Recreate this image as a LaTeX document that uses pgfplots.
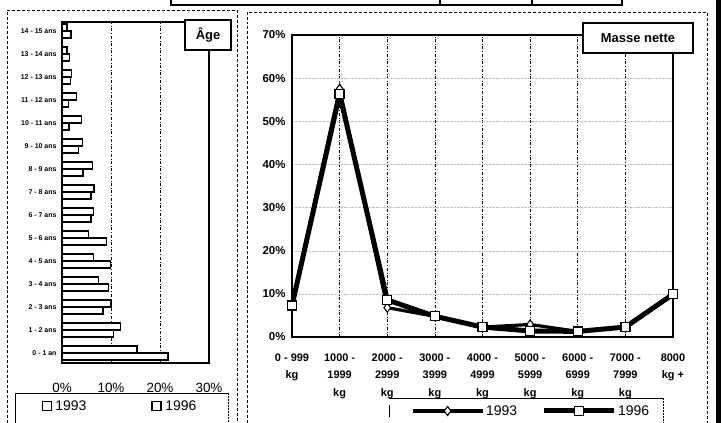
\documentclass[border=0pt]{standalone}
\usepackage{fontspec}
\setmainfont{Liberation Sans}
\usepackage{pgfplots}
\pgfplotsset{compat=1.18}

% age groups: 0 = "0 - 1 an" ... 14 = "14 - 15 ans"
\pgfplotstableread{
cat v1993 v1996
0  21.6 15.3
1  10.5 12.0
2  8.4  10.0
3  9.5  7.5
4  9.9  6.4
5  9.1  5.4
6  5.9  6.4
7  5.9  6.5
8  4.3  6.2
9  3.4  4.2
10 1.4  4.0
11 1.3  3.0
12 1.7  2.0
13 1.5  1.0
14 1.8  1.0
}\agedata

% net mass classes 0..8
\pgfplotstableread{
cat v1993 v1996
0 7.5  7.3
1 57.5 56.3
2 6.8  8.6
3 4.8  4.8
4 2.3  2.3
5 2.9  1.4
6 1.3  1.3
7 2.3  2.3
8 9.9  9.9
}\massdata

\begin{document}
\begin{tikzpicture}
\useasboundingbox (0,0) rectangle (721bp,423bp);

% frames of the scanned page
\draw[line width=2.2pt] (171bp,423bp) -- (171bp,418bp) -- (622bp,418bp) -- (622bp,423bp);
\draw[line width=2.2pt] (440bp,418bp) -- (440bp,423bp) (532bp,418bp) -- (532bp,423bp);
\draw[densely dashed, line width=0.5pt] (7bp,0bp) -- (7bp,413bp) -- (237bp,413bp) -- (237bp,0bp);
\draw[densely dashed, line width=0.5pt] (247bp,0bp) -- (247bp,411bp) -- (707bp,411bp) -- (707bp,0bp);
\fill[black] (716bp,0bp) rectangle (721bp,423bp);
% legend boxes
\draw[line width=0.5pt] (15bp,0bp) -- (15bp,30bp) -- (228bp,30bp);
\draw[densely dotted, line width=0.5pt] (228bp,30bp) -- (228bp,0bp);
\draw[line width=0.5pt] (389bp,25bp) -- (663bp,25bp);
\draw[densely dotted, line width=0.5pt] (663bp,25bp) -- (663bp,0bp);
\draw[line width=0.5pt] (389bp,6bp) -- (389bp,18bp);

% ---------- Age ----------
\begin{axis}[
    at={(62bp,60bp)}, anchor=south west, scale only axis,
    width=147bp, height=341bp,
    xbar, bar width=7bp,
    xmin=0, xmax=30, ymin=-0.435, ymax=14.39,
    ytick={0,...,14},
    yticklabels={0 - 1 an,1 - 2 ans,2 - 3 ans,3 - 4 ans,4 - 5 ans,5 - 6 ans,6 - 7 ans,7 - 8 ans,8 - 9 ans,9 - 10 ans,10 - 11 ans,11 - 12 ans,12 - 13 ans,13 - 14 ans,14 - 15 ans},
    yticklabel style={font=\fontsize{7}{8}\selectfont\bfseries, xshift=-2bp},
    xtick={0,10,20,30}, xticklabels={0\%,10\%,20\%,30\%},
    xticklabel style={font=\fontsize{13.5}{15}\selectfont, yshift=-17bp},
    major tick length=0pt,
    xmajorgrids, grid style={black, dash dot, line width=0.6pt},
    axis line style={line width=1.6pt},
    legend columns=2,
    legend style={at={(-0.16,-0.126)}, anchor=west, draw=none, fill=none,
        font=\fontsize{14}{16}\selectfont,
        /tikz/every odd column/.append style={column sep=1bp},
        /tikz/every even column/.append style={column sep=63bp}},
    legend image code/.code={\draw[black, fill=white, line width=1.8pt] (0bp,-4.5bp) rectangle (9bp,4.5bp);},
]
\addplot[black, fill=white, line width=1.4pt, bar shift=-3.5bp] table[x=v1993, y=cat] {\agedata};
\addlegendentry{1993}
\addplot[black, fill=white, line width=1.4pt, bar shift=3.5bp] table[x=v1996, y=cat] {\agedata};
\addlegendentry{1996}
\end{axis}
\node[draw, line width=1.3pt, fill=white, minimum width=46bp, minimum height=30bp,
    font=\fontsize{13}{15}\selectfont\bfseries] at (208bp,388bp) {Âge};

% ---------- Masse nette ----------
\begin{axis}[
    at={(292bp,86bp)}, anchor=south west, scale only axis,
    width=381bp, height=302bp,
    xmin=0, xmax=8, ymin=0, ymax=70,
    xtick={0,...,8},
    xticklabels={{0 - 999\\kg},{1000 -\\1999\\kg},{2000 -\\2999\\kg},{3000 -\\3999\\kg},{4000 -\\4999\\kg},{5000 -\\5999\\kg},{6000 -\\6999\\kg},{7000 -\\7999\\kg},{8000\\kg +}},
    xticklabel style={align=center, font=\fontsize{11}{17.5}\selectfont\bfseries, yshift=-13bp},
    ytick={0,10,...,70}, yticklabels={0\%,10\%,20\%,30\%,40\%,50\%,60\%,70\%},
    yticklabel style={font=\fontsize{11.5}{13}\selectfont\bfseries, xshift=-3bp},
    major tick length=0pt,
    xmajorgrids, ymajorgrids,
    x grid style={black, dash dot, line width=0.6pt},
    y grid style={gray!50, densely dotted, line width=0.4pt},
    axis line style={line width=1.6pt},
    legend columns=2,
    legend style={at={(0.304,-0.245)}, anchor=west, draw=none, fill=none,
        font=\fontsize{14}{16}\selectfont,
        /tikz/every even column/.append style={column sep=22bp}},
    legend image code/.code={\draw[mark repeat=2, mark phase=2, #1] plot coordinates {(0bp,0bp) (35bp,0bp) (70bp,0bp)};},
]
\addplot[black, line width=3.2pt, mark=diamond*, mark size=4.5bp,
    mark options={fill=white, line width=1.1pt}] table[x=cat, y=v1993] {\massdata};
\addlegendentry{1993}
\addplot[black, line width=5pt, mark=square*, mark size=4.5bp,
    mark options={fill=white, line width=1.4pt}] table[x=cat, y=v1996] {\massdata};
\addlegendentry{1996}
\end{axis}
\node[draw, line width=1.3pt, fill=white, minimum width=110bp, minimum height=30bp,
    font=\fontsize{13}{15}\selectfont\bfseries] at (638bp,385bp) {Masse nette};
\end{tikzpicture}
\end{document}
